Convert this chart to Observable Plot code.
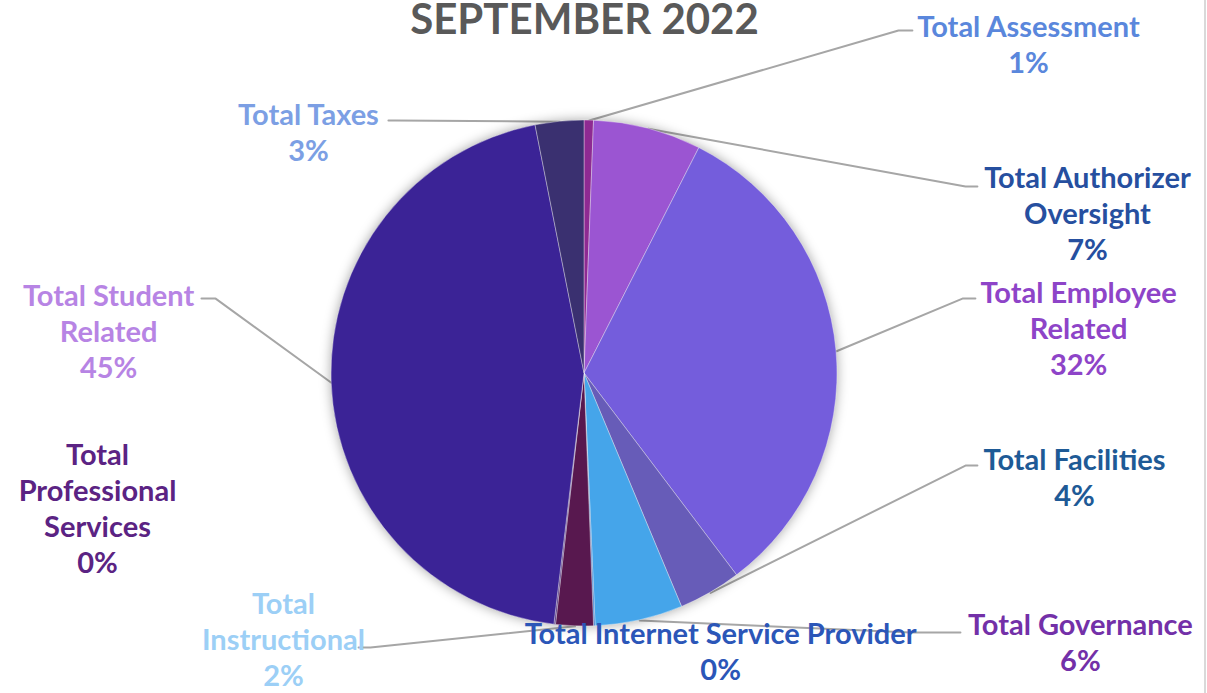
<!DOCTYPE html>
<html><head><meta charset="utf-8">
<script src="https://cdn.jsdelivr.net/npm/d3@7"></script>
<script src="https://cdn.jsdelivr.net/npm/@observablehq/plot@0.6"></script>
<style>
body{margin:0;background:#fff;}
#chart{position:relative;width:1207px;height:693px;overflow:hidden;background:#fff;}
#chart::after{content:"";position:absolute;left:1204px;top:0;width:1.5px;height:693px;background:#d9d9d9;}
</style></head><body><div id="chart"></div>
<script>
// ---- data ----
const title = "SEPTEMBER 2022";
const categories = ["Total Assessment","Total Authorizer Oversight","Total Employee Related","Total Facilities","Total Governance","Total Internet Service Provider","Total Instructional","Total Professional Services","Total Student Related","Total Taxes"];
const shares = [0.6, 6.9, 32.2, 4.0, 5.6, 0.1, 2.4, 0.1, 45.0, 3.1];
const percentLabels = ["1%","7%","32%","4%","6%","0%","2%","0%","45%","3%"];
const labelLines = [["Total Assessment"],["Total Authorizer","Oversight"],["Total Employee","Related"],["Total Facilities"],["Total Governance"],["Total Internet Service Provider"],["Total","Instructional"],["Total","Professional","Services"],["Total Student","Related"],["Total Taxes"]];
const sliceColors = ["#8e2a92","#9b55d2","#745ddc","#675cb8","#45a5ea","#3f7fd0","#58184f","#4b2a7a","#3b2396","#3a3070"];
const labelColors = ["#5a87dc","#264f9f","#8e44c8","#1e5a96","#7330a8","#2b56b8","#9ccff6","#5b2383","#b784e4","#7c9fe4"];

// ---- layout (pie radius units; pie centre = 0,0) ----
const W = 1207, H = 693, CX = 584, CY = 373, R = 253;
const FS = 29, LH = 36; // label font size, line step (px)
// text: first-line centre; leader: elbow + end (null = no leader)
const labelLayout = [
  {t:[1.755, 1.375], e:[1.241, 1.356], k:[1.296, 1.356]},
  {t:[1.988, 0.779], e:[1.506, 0.739], k:[1.553, 0.739]},
  {t:[1.953, 0.324], e:[1.494, 0.296], k:[1.545, 0.296]},
  {t:[1.937,-0.336], e:[1.506,-0.364], k:[1.553,-0.364]},
  {t:[1.960,-0.988], e:[1.289,-1.024], k:[1.486,-1.024]},
  {t:[0.538,-1.024], e:null, k:null},
  {t:[-1.190,-0.905], e:[-0.846,-1.083], k:[-0.893,-1.083]},
  {t:[-1.925,-0.316], e:null, k:null},
  {t:[-1.881, 0.312], e:[-1.458, 0.296], k:[-1.514, 0.296]},
  {t:[-1.091, 1.028], e:[-0.747, 1.000], k:[-0.775, 1.000]}
];

const rows = categories.map((c, i) => ({
  category: c, share: shares[i], color: sliceColors[i], labelColor: labelColors[i],
  text: [...labelLines[i], percentLabels[i]].join("\n"), n: labelLines[i].length + 1
}));
const arcs = d3.pie().sort(null).value(d => d.share)(rows);
arcs.forEach(a => { a.data.mid = (a.startAngle + a.endAngle) / 2; });

const leaders = [];
rows.forEach((d, i) => {
  const L = labelLayout[i];
  if (!L.e) return;
  leaders.push({category: d.category, u: Math.sin(d.mid), v: Math.cos(d.mid)});
  leaders.push({category: d.category, u: L.e[0], v: L.e[1]});
  leaders.push({category: d.category, u: L.k[0], v: L.k[1]});
});
const labels = rows.map((d, i) => ({
  ...d, u: labelLayout[i].t[0], v: labelLayout[i].t[1] - (d.n - 1) * LH / 2 / R
}));

function pieSlices(index, scales) {
  const x0 = scales.x(0), y0 = scales.y(0), r = scales.x(1) - scales.x(0);
  const arc = d3.arc().innerRadius(0).outerRadius(r);
  const g = d3.create("svg:g").attr("transform", `translate(${x0},${y0})`)
    .style("filter", "drop-shadow(0px 0px 6px rgba(0,0,0,0.35))");
  g.selectAll("path").data(arcs).join("path")
    .attr("d", arc).attr("fill", a => a.data.color)
    .attr("stroke", "rgba(255,255,255,0.45)").attr("stroke-width", 0.8);
  return g.node();
}

const chart = Plot.plot({
  width: W, height: H, margin: 0,
  x: {domain: [-CX / R, (W - CX) / R], range: [0, W], axis: null},
  y: {domain: [-(H - CY) / R, CY / R], range: [H, 0], axis: null},
  style: {background: "white", fontFamily: "Lato, 'Open Sans', sans-serif"},
  marks: [
    Plot.line(leaders, {x: "u", y: "v", z: "category", stroke: "#a6a6a6", strokeWidth: 2}),
    pieSlices,
    Plot.text(labels, {x: "u", y: "v", text: "text", fill: "labelColor", fontSize: FS, fontWeight: "bold",
      lineHeight: LH / FS, textAnchor: "middle", lineAnchor: "middle"}),
    Plot.text([title], {x: 0, y: (CY - 20) / R, text: d => d, fontSize: 42, fontWeight: "bold", fill: "#595959", textAnchor: "middle", lineAnchor: "middle"})
  ]
});
document.getElementById("chart").appendChild(chart);
</script>
</body></html>
